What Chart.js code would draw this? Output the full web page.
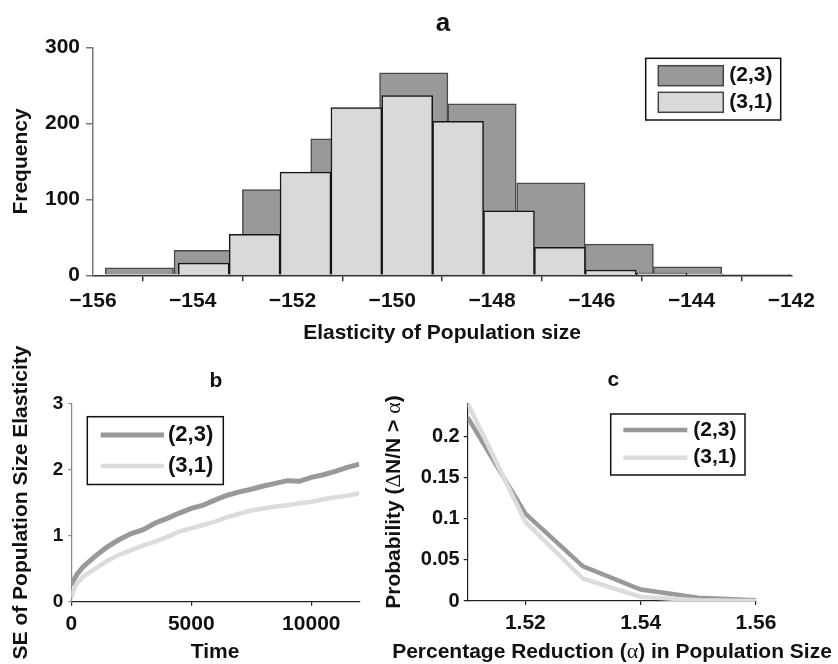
<!DOCTYPE html>
<html lang="en">
<head>
<meta charset="UTF-8">
<title>Elasticity of population size</title>
<script src="https://cdn.jsdelivr.net/npm/chart.js"></script>
<style>
  body { margin: 0; background: #fff; }
  #wrap { position: relative; width: 838px; height: 664px; overflow: hidden; }
  canvas { position: absolute; }
</style>
</head>
<body>
<div id="wrap">
  <canvas id="chartA" width="838" height="345" style="left:0;top:0"></canvas>
  <canvas id="chartB" width="380" height="319" style="left:0;top:345px"></canvas>
  <canvas id="chartC" width="458" height="319" style="left:380px;top:345px"></canvas>
</div>
<script>
// ---- data ----
// panel a: histogram bin centres and counts
const binMid23 = [-155.07, -153.69, -152.32, -150.95, -149.57, -148.20, -146.82, -145.45, -144.08, -142.70];
const freq23   = [10, 33, 113, 180, 267, 226, 122, 41, 11, 1];
const binMid31 = [-153.78, -152.76, -151.74, -150.72, -149.70, -148.68, -147.66, -146.64, -145.62, -144.60];
const freq31   = [16, 54, 136, 221, 237, 203, 85, 37, 7, 3];

// panel b: SE of elasticity over time
const timeB = [0, 100, 250, 500, 1000, 1500, 2000, 2500, 3000, 3500, 4000, 4500, 5000, 5500, 6000,
               6500, 7000, 7500, 8000, 8500, 9000, 9500, 10000, 10500, 11000, 11500, 12000];
const se23 = [0.25, 0.33, 0.42, 0.53, 0.69, 0.83, 0.94, 1.03, 1.09, 1.19, 1.26, 1.34, 1.41, 1.46, 1.54,
              1.61, 1.66, 1.70, 1.75, 1.79, 1.83, 1.82, 1.88, 1.92, 1.97, 2.03, 2.08];
const se31 = [0.06, 0.18, 0.28, 0.38, 0.50, 0.62, 0.71, 0.78, 0.85, 0.91, 0.98, 1.06, 1.11, 1.16, 1.21,
              1.28, 1.33, 1.38, 1.41, 1.44, 1.46, 1.49, 1.51, 1.55, 1.58, 1.60, 1.64];

// panel c: probability of a reduction larger than alpha
const alphaC = [1.51, 1.52, 1.53, 1.54, 1.55, 1.56];
const prob23 = [0.223, 0.106, 0.042, 0.014, 0.004, 0.001];
const prob31 = [0.240, 0.096, 0.027, 0.005, 0.001, 0.000];

const seriesNames = ['(2,3)', '(3,1)'];

// axis ranges and tick values
const rangeA = { x: [-156, -142], y: [0, 300] };
const ticksAx = [-156, -154, -152, -150, -148, -146, -144, -142];
const ticksAy = [0, 100, 200, 300];
const rangeB = { x: [0, 12000], y: [0, 3] };
const ticksBx = [0, 5000, 10000];
const ticksBy = [0, 1, 2, 3];
const rangeC = { x: [1.51, 1.56], y: [0, 0.24] };
const ticksCx = [1.52, 1.54, 1.56];
const ticksCy = [0, 0.05, 0.1, 0.15, 0.2];

// ---- styling ----
const FAMILY = "'Liberation Sans', Arial, Helvetica, sans-serif";
const bold = size => ({ family: FAMILY, size: size, weight: 'bold' });
const cssBold = size => 'bold ' + size + 'px ' + FAMILY;
const SERIF = size => size + "px 'Liberation Serif', 'DejaVu Serif', serif";
const DARK = '#999999', LIGHT = '#d9d9d9', LIGHTLINE = '#dcdcdc';
const INK = '#111111';

function pts(xs, ys) {
    return xs.map((x, i) => ({ x: x, y: ys[i] }));
}

function drawRuns(ctx, item) {
    ctx.save();
    ctx.translate(item.x, item.y);
    if (item.rot) ctx.rotate(item.rot);
    ctx.fillStyle = INK;
    ctx.textBaseline = item.baseline || 'middle';
    ctx.textAlign = 'left';
    let total = 0;
    const widths = item.runs.map(r => {
        ctx.font = r.font;
        const w = ctx.measureText(r.t).width;
        total += w;
        return w;
    });
    let x = -total / 2;
    item.runs.forEach((r, i) => {
        ctx.font = r.font;
        ctx.fillText(r.t, x, 0);
        x += widths[i];
    });
    ctx.restore();
}

function drawLegend(ctx, chart, lg) {
    ctx.save();
    ctx.fillStyle = '#fff';
    ctx.fillRect(lg.box[0], lg.box[1], lg.box[2], lg.box[3]);
    ctx.strokeStyle = INK;
    ctx.lineWidth = 1.5;
    ctx.strokeRect(lg.box[0], lg.box[1], lg.box[2], lg.box[3]);
    chart.data.datasets.forEach((ds, i) => {
        const y = lg.rows[i];
        if (lg.kind === 'swatch') {
            ctx.fillStyle = ds.backgroundColor;
            ctx.fillRect(lg.sx, y - lg.sh / 2, lg.sw, lg.sh);
            ctx.strokeStyle = '#444';
            ctx.lineWidth = 1.5;
            ctx.strokeRect(lg.sx, y - lg.sh / 2, lg.sw, lg.sh);
        } else {
            ctx.strokeStyle = ds.borderColor;
            ctx.lineWidth = ds.borderWidth;
            ctx.beginPath();
            ctx.moveTo(lg.sx, y);
            ctx.lineTo(lg.sx + lg.sw, y);
            ctx.stroke();
        }
        ctx.fillStyle = INK;
        ctx.font = lg.font;
        ctx.textBaseline = 'middle';
        ctx.textAlign = 'left';
        ctx.fillText(ds.label, lg.tx, y);
    });
    ctx.restore();
}

const decor = {
    id: 'decor',
    afterDraw(chart, args, opts) {
        const ctx = chart.ctx;
        (opts.texts || []).forEach(t => drawRuns(ctx, t));
        if (opts.legend) drawLegend(ctx, chart, opts.legend);
    }
};

function axis(color, lw, tickLen, pad, size, range, tickVals, extra) {
    return Object.assign({
        type: 'linear',
        min: range[0], max: range[1],
        offset: false,
        border: { display: true, color: color, width: lw },
        grid: { display: true, drawOnChartArea: false, drawTicks: true, tickLength: tickLen, color: color, lineWidth: lw },
        ticks: { padding: pad, color: INK, font: bold(size), maxRotation: 0, autoSkip: false },
        afterBuildTicks: s => { s.ticks = tickVals.map(v => ({ value: v })); }
    }, extra || {});
}

const baseOpts = {
    responsive: false,
    animation: false,
    events: [],
    plugins: { legend: { display: false }, tooltip: { enabled: false }, title: { display: false } }
};

// ---- panel a: histogram ----
const axA = axis('#333', 1.5, 6, 7, 21, rangeA.x, ticksAx, { z: 1, afterFit: s => { s.height = 69.7; } });
axA.ticks.callback = v => String(v).replace('-', '\u2212');
const ayA = axis('#777', 1.5, 7, 6, 21, rangeA.y, ticksAy, { afterFit: s => { s.width = 93; } });

new Chart(document.getElementById('chartA'), {
    type: 'bar',
    data: {
        datasets: [{
            label: seriesNames[0],
            data: pts(binMid23, freq23),
            xAxisID: 'x',
            backgroundColor: DARK, borderColor: '#4a4a4a', borderWidth: 1.5,
            categoryPercentage: 1, barPercentage: 1, grouped: false, order: 2
        }, {
            label: seriesNames[1],
            data: pts(binMid31, freq31),
            xAxisID: 'x2',
            backgroundColor: LIGHT, borderColor: '#151515', borderWidth: 1.5,
            categoryPercentage: 1, barPercentage: 1, grouped: false, order: 1
        }]
    },
    options: Object.assign({}, baseOpts, {
        layout: { padding: { left: 0, top: 47.7, right: 46.7, bottom: 0 } },
        scales: {
            x: axA,
            x2: { type: 'linear', display: false, min: rangeA.x[0], max: rangeA.x[1], offset: false,
                  afterBuildTicks: s => { s.ticks = []; } },
            y: ayA
        },
        plugins: Object.assign({}, baseOpts.plugins, {
            decor: {
                texts: [
                    { runs: [{ t: 'a', font: cssBold(26) }], x: 443, y: 30.5, baseline: 'alphabetic' },
                    { runs: [{ t: 'Elasticity of Population size', font: cssBold(21) }], x: 442, y: 333.5 },
                    { runs: [{ t: 'Frequency', font: cssBold(21) }], x: 21.5, y: 161.5, rot: -Math.PI / 2 }
                ],
                legend: { kind: 'swatch', box: [645.7, 58.3, 135, 61.7], sx: 658.3, sw: 65, sh: 20,
                          rows: [75.7, 102.3], tx: 729.3, font: cssBold(21) }
            }
        })
    }),
    plugins: [decor]
});

// ---- panel b: SE over time ----
const axB = axis('#222', 1.2, 4, 6, 21, rangeB.x, ticksBx, { afterFit: s => { s.height = 62.3; } });
axB.ticks.callback = v => String(v);
const ayB = axis('#888', 1.2, 3, 5, 19, rangeB.y, ticksBy, { afterFit: s => { s.width = 71.3; } });

new Chart(document.getElementById('chartB'), {
    type: 'line',
    data: {
        datasets: [{
            label: seriesNames[0], data: pts(timeB, se23),
            borderColor: DARK, borderWidth: 5, pointRadius: 0, tension: 0, fill: false, order: 2
        }, {
            label: seriesNames[1], data: pts(timeB, se31),
            borderColor: LIGHTLINE, borderWidth: 4.5, pointRadius: 0, tension: 0, fill: false, order: 1
        }]
    },
    options: Object.assign({}, baseOpts, {
        layout: { padding: { left: 0, top: 58.3, right: 20.7, bottom: 0 } },
        scales: { x: axB, y: ayB },
        plugins: Object.assign({}, baseOpts.plugins, {
            decor: {
                texts: [
                    { runs: [{ t: 'b', font: cssBold(21) }], x: 216, y: 41.7, baseline: 'alphabetic' },
                    { runs: [{ t: 'Time', font: cssBold(21) }], x: 215, y: 307.5 },
                    { runs: [{ t: 'SE of Population Size Elasticity', font: cssBold(21) }], x: 21.5, y: 157.5, rot: -Math.PI / 2 }
                ],
                legend: { kind: 'line', box: [87.3, 71.7, 136, 67.8], sx: 100.7, sw: 63.3,
                          rows: [90, 121], tx: 168, font: cssBold(22) }
            }
        })
    }),
    plugins: [decor]
});

// ---- panel c: probability of reduction ----
const axC = axis('#222', 1.2, 4, 6, 21, rangeC.x, ticksCx, { afterFit: s => { s.height = 63; } });
axC.ticks.callback = v => v.toFixed(2);
const ayC = axis('#222', 1.2, 4, 4, 20, rangeC.y, ticksCy, { afterFit: s => { s.width = 87.7; } });
ayC.ticks.callback = v => String(+v.toFixed(2));

new Chart(document.getElementById('chartC'), {
    type: 'line',
    data: {
        datasets: [{
            label: seriesNames[0], data: pts(alphaC, prob23),
            borderColor: DARK, borderWidth: 4.5, pointRadius: 0, tension: 0, fill: false, order: 2
        }, {
            label: seriesNames[1], data: pts(alphaC, prob31),
            borderColor: LIGHTLINE, borderWidth: 4.5, pointRadius: 0, tension: 0, fill: false, order: 1
        }]
    },
    options: Object.assign({}, baseOpts, {
        layout: { padding: { left: 0, top: 58.3, right: 82, bottom: 0 } },
        scales: { x: axC, y: ayC },
        plugins: Object.assign({}, baseOpts.plugins, {
            decor: {
                texts: [
                    { runs: [{ t: 'c', font: cssBold(21) }], x: 233.3, y: 40.7, baseline: 'alphabetic' },
                    { runs: [{ t: 'Percentage Reduction (', font: cssBold(21) }, { t: '\u03b1', font: SERIF(22) },
                             { t: ') in Population Size', font: cssBold(21) }], x: 232, y: 307.5 },
                    { runs: [{ t: 'Probability (', font: cssBold(21) }, { t: '\u0394', font: SERIF(21) },
                             { t: 'N/N > ', font: cssBold(21) }, { t: '\u03b1', font: SERIF(22) },
                             { t: ')', font: cssBold(21) }], x: 14, y: 157, rot: -Math.PI / 2 }
                ],
                legend: { kind: 'line', box: [230.7, 69, 134.3, 61], sx: 243.3, sw: 64,
                          rows: [85, 112.7], tx: 313.3, font: cssBold(21) }
            }
        })
    }),
    plugins: [decor]
});
</script>
</body>
</html>
